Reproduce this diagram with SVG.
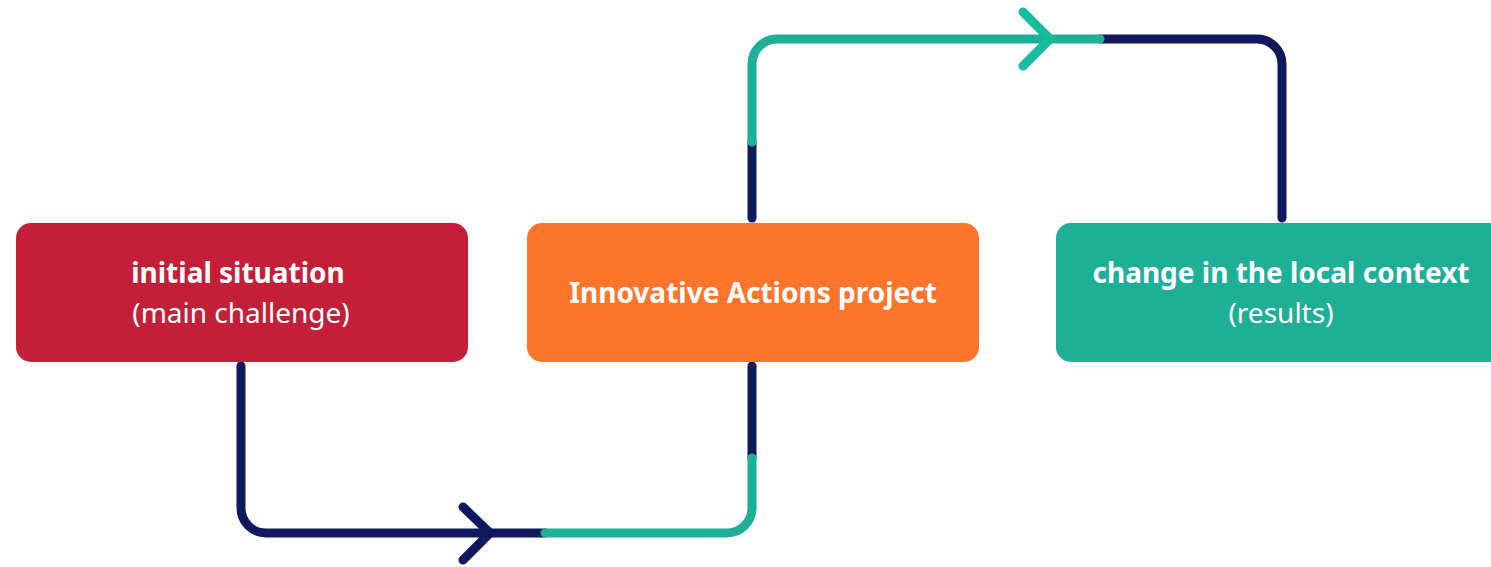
<svg xmlns="http://www.w3.org/2000/svg" width="1491" height="567" viewBox="0 0 1491 567">
<style>
.box{stroke:none}
.t1{font-family:"Noto Sans","Open Sans",sans-serif;font-weight:700;font-size:28px;fill:#fff;text-anchor:middle}
.t2{font-family:"Noto Sans","Open Sans",sans-serif;font-weight:400;font-size:28px;fill:#fff;text-anchor:middle}
.ln{fill:none;stroke-width:9;stroke-linecap:round;stroke-linejoin:round}
.navy{stroke:#10185E}
.teal{stroke:#1EB097}
</style>
<rect width="1491" height="567" fill="#fff"/>
<g id="connectors">
<path class="ln navy" d="M241,366 V508 A25,25 0 0 0 266,533 H545"/>
<path class="ln navy" d="M752,458 V366"/>
<path class="ln teal" d="M545,533 H727 A25,25 0 0 0 752,508 V458"/>
<path class="ln navy" d="M463,507 L490,533 L463,560"/>
<path class="ln navy" d="M752,218 V142"/>
<path class="ln navy" d="M1100,39 H1257 A25,25 0 0 1 1282,64 V218"/>
<path class="ln teal" d="M752,142 V64 A25,25 0 0 1 777,39 H1100"/>
<path class="ln" stroke="#16BC9E" d="M1023,12 L1050,39 L1023,66"/>
</g>
<g id="node-initial">
<rect class="box" x="16" y="223" width="452" height="139" rx="15" fill="#C41F39"/>
<text class="t1" x="238" y="283">initial situation</text>
<text class="t2" x="241" y="323">(main challenge)</text>
</g>
<g id="node-project">
<rect class="box" x="527" y="223" width="452" height="139" rx="15" fill="#FD752B"/>
<text class="t1" x="753" y="303">Innovative Actions project</text>
</g>
<g id="node-change">
<rect class="box" x="1056" y="223" width="452" height="139" rx="15" fill="#1EB097"/>
<text class="t1" x="1281" y="283">change in the local context</text>
<text class="t2" x="1281" y="323">(results)</text>
</g>
</svg>
